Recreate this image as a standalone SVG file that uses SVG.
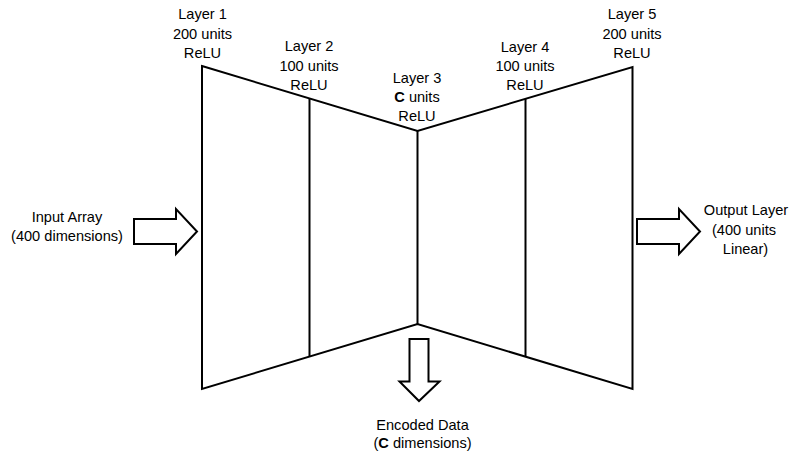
<svg xmlns="http://www.w3.org/2000/svg" width="790" height="455" viewBox="0 0 790 455">
<style>
  text { font-family: "Liberation Sans", Arial, sans-serif; font-size: 14.6px; fill: #000; text-anchor: middle; }
  .b { font-weight: bold; }
  .ln { stroke: #000; stroke-width: 2; fill: none; }
  .arr { stroke: #000; stroke-width: 2; fill: #fff; stroke-linejoin: miter; }
</style>
<rect width="790" height="455" fill="#fff"/>
<g id="network">
  <polygon class="ln" points="202,66 417.5,131 632.5,67 632.5,389 417.5,324 202,389"/>
</g>
<g id="layer1">
  <text x="202.5" y="19">Layer 1</text>
  <text x="202.5" y="38.5">200 units</text>
  <text x="202.5" y="57.5">ReLU</text>
</g>
<g id="layer2">
  <line class="ln" x1="309.5" y1="98.5" x2="309.5" y2="356"/>
  <text x="309" y="51">Layer 2</text>
  <text x="309" y="70.5">100 units</text>
  <text x="309" y="89.5">ReLU</text>
</g>
<g id="layer3">
  <line class="ln" x1="417.5" y1="131" x2="417.5" y2="324"/>
  <text x="417" y="83">Layer 3</text>
  <text x="417" y="102"><tspan class="b">C</tspan> units</text>
  <text x="417" y="121">ReLU</text>
</g>
<g id="layer4">
  <line class="ln" x1="525.5" y1="99" x2="525.5" y2="356"/>
  <text x="525" y="52">Layer 4</text>
  <text x="525" y="71">100 units</text>
  <text x="525" y="90">ReLU</text>
</g>
<g id="layer5">
  <text x="632" y="19">Layer 5</text>
  <text x="632" y="38.5">200 units</text>
  <text x="632" y="57.5">ReLU</text>
</g>
<g id="connectors">
  <polygon class="arr" points="134,219 176,219 176,209 197,231.5 176,254 176,244 134,244"/>
  <polygon class="arr" points="637,219 679,219 679,209 700,231.5 679,254 679,244 637,244"/>
  <polygon class="arr" points="409.5,339 428.5,339 428.5,381.5 439.5,381.5 419,401 399.5,381.5 409.5,381.5"/>
</g>
<g id="input">
  <text x="67" y="221.5">Input Array</text>
  <text x="67" y="241">(400 dimensions)</text>
</g>
<g id="output">
  <text x="746" y="215">Output Layer</text>
  <text x="744" y="234.5">(400 units</text>
  <text x="745.5" y="253.5">Linear)</text>
</g>
<g id="encoded">
  <text x="422.5" y="429.5">Encoded Data</text>
  <text x="422.5" y="448">(<tspan class="b">C</tspan> dimensions)</text>
</g>
</svg>
